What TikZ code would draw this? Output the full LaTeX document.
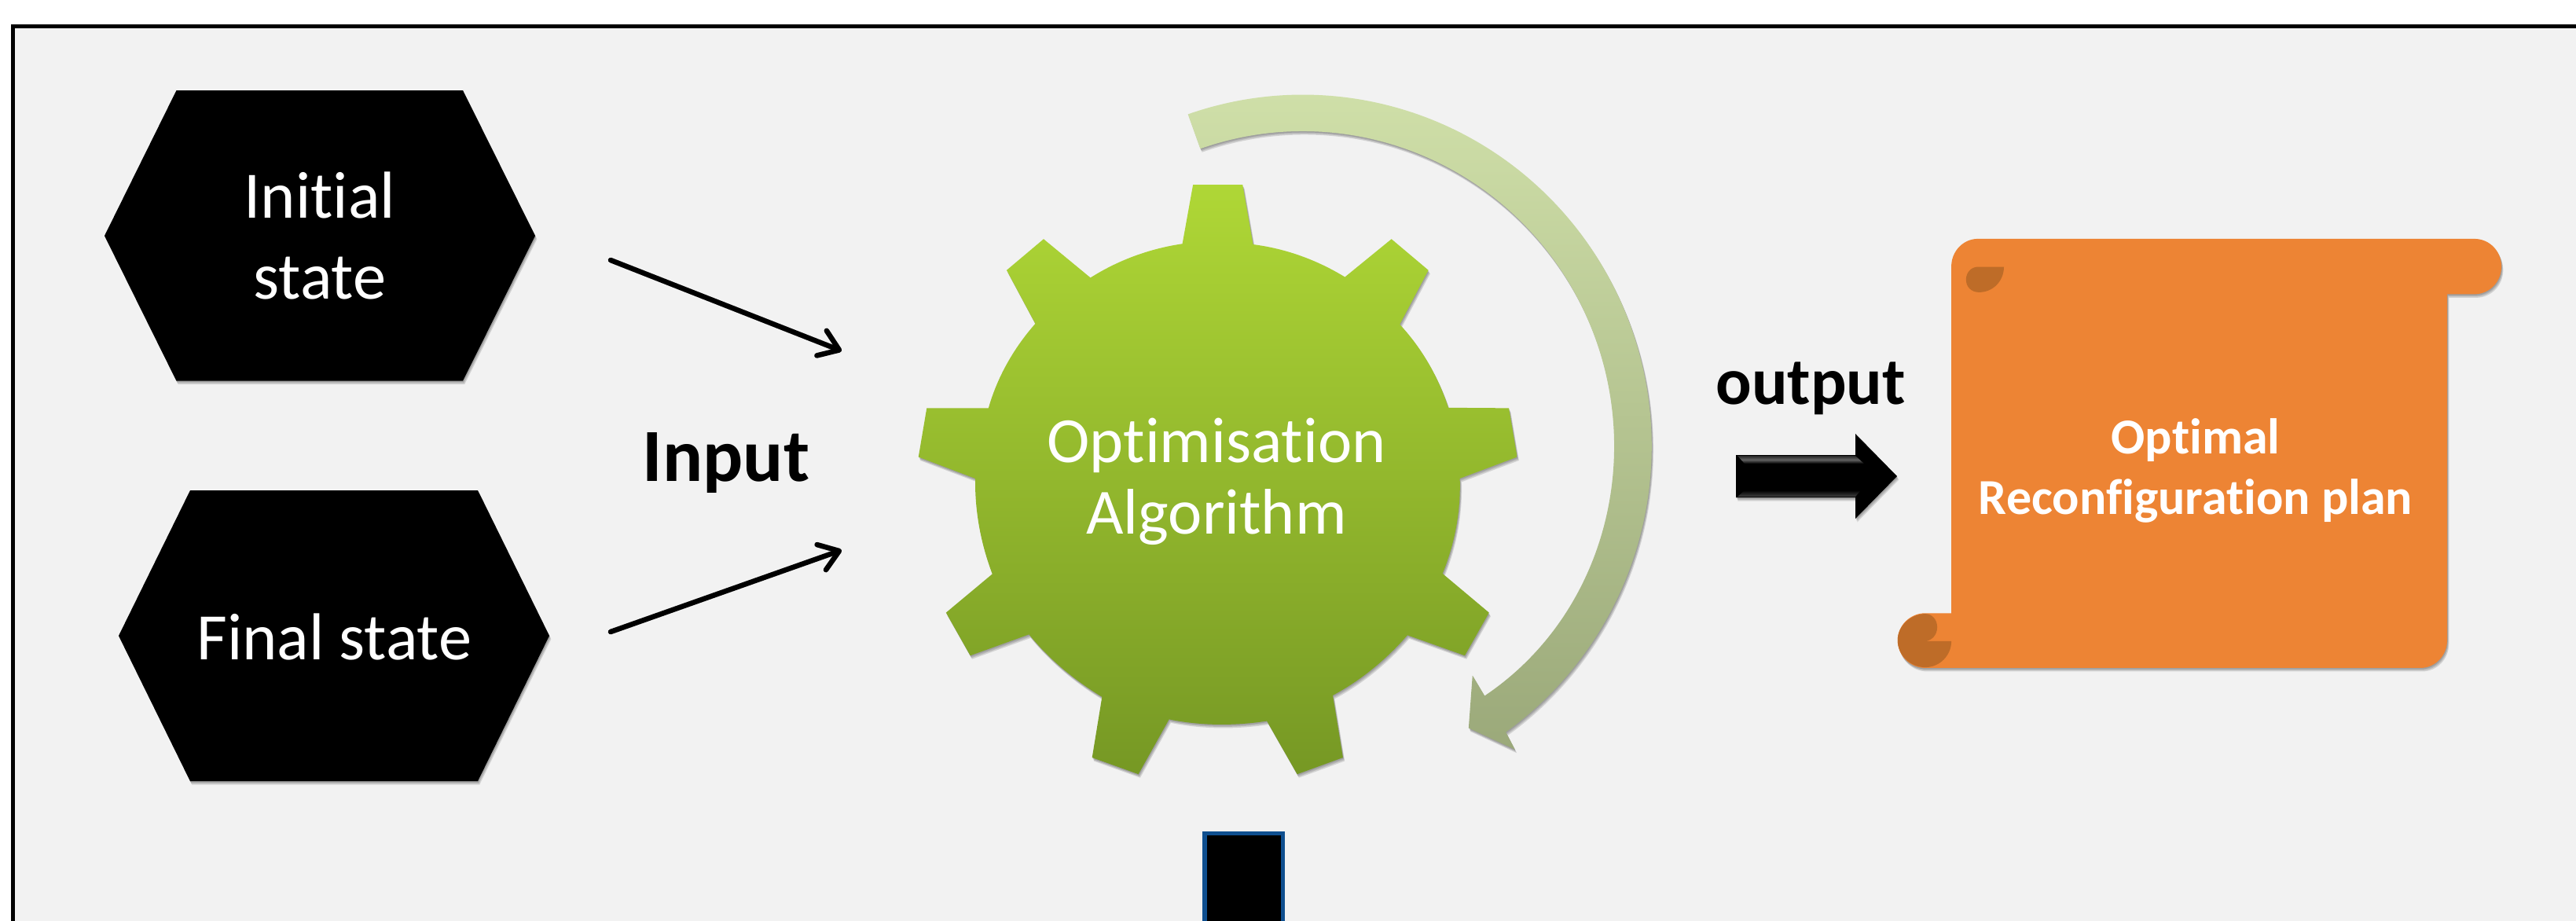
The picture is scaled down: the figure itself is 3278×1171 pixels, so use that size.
\documentclass[tikz,border=0pt]{standalone}
\usepackage{fontspec}
\setmainfont[Ligatures=NoCommon]{Carlito}
\usetikzlibrary{arrows.meta,calc}
\definecolor{panelbg}{HTML}{F2F2F2}
\definecolor{gearTop}{HTML}{AFD736}
\definecolor{gearBot}{HTML}{769824}
\definecolor{ringTop}{HTML}{D0E0A9}
\definecolor{ringBot}{HTML}{9BA97A}
\definecolor{scrollFill}{HTML}{ED8434}
\definecolor{scrollDark}{HTML}{BE6C28}
\definecolor{boxBlue}{HTML}{0F4F8F}
\newcommand\ellarc[6]{ .. controls ({#1+#3*(cos(#5)-4/3*tan(((#6)-(#5))/4)*sin(#5))},{#2-#4*(sin(#5)+4/3*tan(((#6)-(#5))/4)*cos(#5))}) and ({#1+#3*(cos(#6)+4/3*tan(((#6)-(#5))/4)*sin(#6))},{#2-#4*(sin(#6)-4/3*tan(((#6)-(#5))/4)*cos(#6))}) .. ({#1+#3*cos(#6)},{#2-#4*sin(#6)}) }
\newcommand\ga[2]{\ellarc{641}{753}{440}{450}{#1}{#2}}
\newcommand\gearpath{(705,309) \ga{81.6}{58.4} -- (956,299) -- (1023,357) -- (971,458) \ga{41.2}{18.1} -- (1169,614) -- (1184,705) -- (1080,745) \ga{1}{-22.1} -- (1133,995) -- (1089,1075) -- (985,1037) \ga{-38.9}{-61.7} -- (868,1265) -- (785,1296) -- (730,1197) \ga{-78.4}{-101.6} -- (497,1296) -- (413,1265) -- (431,1152) \ga{-118.3}{-141.1} -- (192,1075) -- (148,995) -- (232,923) \ga{-157.9}{-181} -- (98,705) -- (113,614) -- (225,614) \ga{161.9}{138.8} -- (258,357) -- (325,299) -- (410,371) \ga{121.6}{98.4} -- (596,198) -- (686,198) -- cycle}
\newcommand\ringpath{({795+633*cos(109.2)},{685-655*sin(109.2)}) \ellarc{795}{685}{633}{655}{109.2}{60} \ellarc{795}{685}{633}{655}{60}{10} \ellarc{795}{685}{633}{655}{10}{-54.4} -- (1180,1250) -- (1096,1210) -- (1103,1112) -- (1125,1150) \ellarc{795}{685}{565}{587}{-53.6}{0} \ellarc{795}{685}{565}{587}{0}{55} \ellarc{795}{685}{565}{587}{55}{109.2} -- cycle}
\newcommand\scrollpath{(463,215) .. controls (463,168) and (484,130) .. (510,130) -- (1388,130) .. controls (1415,130) and (1436,168) .. (1436,215) .. controls (1436,262) and (1415,300) .. (1388,300) -- (1340,300) -- (1340,1362) .. controls (1340,1409) and (1319,1447) .. (1293,1447) -- (417,1447) .. controls (390,1447) and (368,1409) .. (368,1362) .. controls (368,1317) and (390,1279) .. (417,1279) -- (463,1279) -- cycle}
\newcommand\softshadow[1]{\foreach \s in {1.5,3,4.5}{\fill[black,opacity=.13,xshift=\s*.5pt,yshift=-\s*1pt] #1;}}
\tikzset{
  x=1pt,y=-1pt,
  hexshape/.style={fill=black},
  whitetext/.style={text=white,inner sep=0pt,align=center},
  hextext/.style={whitetext,font=\fontsize{84.5}{103}\selectfont},
  geartext/.style={whitetext,font=\fontsize{82}{91}\selectfont},
  scrolltext/.style={whitetext,font=\fontsize{64}{77}\selectfont\bfseries},
  labeltext/.style={text=black,inner sep=0pt,anchor=base},
  inarrow/.style={line width=6.5pt,black,-{Straight Barb[length=24pt,width=34pt,round]},line cap=round},
  gearscope/.style={shift={(1100pt,-100pt)},x=.7015pt,y=-.683pt},
  scrollscope/.style={shift={(2150pt,-250pt)},x=.7194pt,y=-.4146pt}
}
\begin{document}
\begin{tikzpicture}
\useasboundingbox (0,0) rectangle (3278,1171);
\clip (0,0) rectangle (3278,1171);
\fill[white] (0,0) rectangle (3278,1171);
\draw[line width=5pt,fill=panelbg] (16.5,33.5) rectangle (3320,1220);

% hexagons
\softshadow{(133,300) -- (224.5,115) -- (589,115) -- (681,300) -- (589,484.7) -- (224.5,484.7) -- cycle}
\softshadow{(151,809) -- (242,624) -- (608,624) -- (699,809) -- (608,994) -- (242,994) -- cycle}
\fill[hexshape] (133,300) -- (224.5,115) -- (589,115) -- (681,300) -- (589,484.7) -- (224.5,484.7) -- cycle;
\fill[hexshape] (151,809) -- (242,624) -- (608,624) -- (699,809) -- (608,994) -- (242,994) -- cycle;
\node[hextext] (initial) at (407,300) {Initial\\state};
\node[hextext] (final) at (425.5,810) {Final state};

% input arrows
\coordinate (i1s) at (777,331);
\coordinate (i1e) at (1071,446.6);
\coordinate (i2s) at (777,804);
\coordinate (i2e) at (1071,700);
\draw[inarrow,opacity=.18,xshift=1pt,yshift=-6pt] (i1s) -- (i1e);
\draw[inarrow,opacity=.18,xshift=1pt,yshift=-6pt] (i2s) -- (i2e);
\draw[inarrow] (i1s) -- (i1e);
\draw[inarrow] (i2s) -- (i2e);
\node[labeltext,font=\fontsize{95.5}{100}\selectfont\bfseries] (input) at (924,612) {Input};

% ring arrow and gear
\begin{scope}[gearscope]
  \softshadow{\ringpath}
  \shade[top color=ringTop,bottom color=ringBot] \ringpath;
  \softshadow{\gearpath}
  \shade[top color=gearTop,bottom color=gearBot] \gearpath;
\end{scope}
\node[geartext] (algo) at (1548,613) {Optimisation\\Algorithm};

% output arrow
\node[labeltext,font=\fontsize{85}{90}\selectfont\bfseries] (output) at (2304,514.5) {output};
\softshadow{(2209,579) -- (2361,579) -- (2361,552) -- (2414,606) -- (2361,660) -- (2361,633) -- (2209,633) -- cycle}
\fill[black] (2209,579) -- (2361,579) -- (2361,552) -- (2414,606) -- (2361,660) -- (2361,633) -- (2209,633) -- cycle;
\shade[top color=black!85,bottom color=black,middle color=black!62] (2211,580) -- (2361,580) -- (2372,590) -- (2220,590) -- cycle;
\shade[top color=black,bottom color=black!75] (2220,624) -- (2368,624) -- (2361,632) -- (2211,632) -- cycle;

% scroll
\begin{scope}[scrollscope]
  \softshadow{\scrollpath}
  \fill[scrollFill] \scrollpath;
  \fill[scrollDark] (556,216) -- (510,216) .. controls (498,216) and (489,234) .. (489,255) .. controls (489,277) and (498,294) .. (512,294) .. controls (537,294) and (556,259) .. (556,216) -- cycle;
  \fill[scrollDark] (417,1281) .. controls (392,1281) and (368,1317) .. (368,1362) .. controls (368,1407) and (390,1445) .. (417,1445) .. controls (443,1445) and (463,1408) .. (463,1365) -- (415,1365) .. controls (428,1365) and (438,1346) .. (438,1322) .. controls (438,1299) and (429,1281) .. (417,1281) -- cycle;
\end{scope}
\node[scrolltext] (plan) at (2794,599) {Optimal\\Reconfiguration plan};

% blue box
\node[draw=boxBlue,fill=black,line width=5.5pt,minimum width=99.5pt,minimum height=160pt,inner sep=0pt,anchor=north] (box) at (1582.5,1057.5) {};
\end{tikzpicture}
\end{document}
